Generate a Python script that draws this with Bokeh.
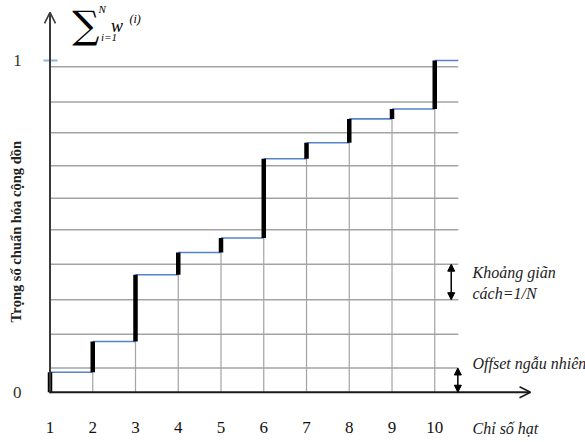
import math
from bokeh.plotting import figure
from bokeh.models import Range1d, Arrow, OpenHead, NormalHead
from bokeh.core.properties import value
from bokeh.embed import file_html
from bokeh.resources import INLINE

# ---- data ----
particle_index = [1, 2, 3, 4, 5, 6, 7, 8, 9, 10]
cumulative = [0.060, 0.153, 0.354, 0.421, 0.465, 0.704, 0.752, 0.824, 0.854, 1.0]
grid_levels = [0.073, 0.175, 0.279, 0.386, 0.490, 0.585, 0.683, 0.782, 0.875, 0.981]
x_tick_labels = ["1", "2", "3", "4", "5", "6", "7", "8", "9", "10"]
y_tick_labels = ["0", "1"]
y_tick_values = [0.0, 1.0]

FONT = "Liberation Serif"
X_END = 10.55

p = figure(width=585, height=442, output_backend="svg", toolbar_location=None,
           x_range=Range1d(-0.158, 13.526), y_range=Range1d(-0.1516, 1.1809),
           min_border=0, x_axis_type=None, y_axis_type=None)
p.xgrid.visible = False
p.ygrid.visible = False
p.outline_line_color = None
p.background_fill_color = "white"

# horizontal grid lines
p.segment(x0=[1] * len(grid_levels), y0=grid_levels, x1=[X_END] * len(grid_levels),
          y1=grid_levels, line_color="#a3a3a3", line_width=1.5)

# vertical grid lines up to the previous cumulative level
prev = [0.0] + cumulative[:-1]
p.segment(x0=particle_index[1:], y0=[0.0] * 9, x1=particle_index[1:], y1=prev[1:],
          line_color="#a3a3a3", line_width=1.2)

# blue horizontal step lines
x_next = particle_index[1:] + [X_END]
p.segment(x0=particle_index, y0=cumulative, x1=x_next, y1=cumulative,
          line_color="#5585c8", line_width=1.6)

# black thick vertical jumps
p.segment(x0=particle_index, y0=prev, x1=particle_index, y1=cumulative,
          line_color="black", line_width=4.5, line_cap="butt")

# axes with arrows
p.add_layout(Arrow(x_start=1, y_start=-0.003, x_end=1, y_end=1.145,
                   line_color="#3a3a3a", line_width=2,
                   end=OpenHead(size=11, line_color="#3a3a3a", line_width=1.6)))
p.add_layout(Arrow(x_start=1, y_start=0, x_end=12.24, y_end=0,
                   line_color="#1a1a1a", line_width=2,
                   end=OpenHead(size=11, line_color="#1a1a1a", line_width=1.6)))

# blue tick at 1
p.segment(x0=[0.848], y0=[1.0], x1=[1.175], y1=[1.0], line_color="#93b3dd", line_width=2)

# double arrows
p.add_layout(Arrow(x_start=10.385, y_start=grid_levels[2], x_end=10.385, y_end=grid_levels[3],
                   line_color="black", line_width=1.5,
                   start=NormalHead(size=7, fill_color="black", line_color="black"),
                   end=NormalHead(size=7, fill_color="black", line_color="black")))
p.add_layout(Arrow(x_start=10.54, y_start=0.0, x_end=10.54, y_end=grid_levels[0],
                   line_color="black", line_width=1.5,
                   start=NormalHead(size=7, fill_color="black", line_color="black"),
                   end=NormalHead(size=7, fill_color="black", line_color="black")))

# x tick labels
p.text(x=particle_index, y=[-0.106] * 10, text=x_tick_labels, text_font=value(FONT),
       text_font_size="17px", text_align="center", text_baseline="middle", text_color="#111111")

# y tick labels
p.text(x=[0.233, 0.24], y=y_tick_values, text=y_tick_labels, text_font=value(FONT),
       text_font_size="17px", text_align="center", text_baseline="middle", text_color="#333333")

# y label
p.text(x=[0.216], y=[0.484], text=["Trọng số chuẩn hóa cộng dồn"], angle=math.pi / 2,
       text_font=value(FONT), text_font_size="14.5px", text_font_style="bold",
       text_align="center", text_baseline="middle", text_color="#222222")

# annotations
p.text(x=[10.883, 10.883, 10.883, 10.883], y=[0.361, 0.2975, 0.0865, -0.109],
       text=["Khoảng giãn", "cách=1/N", "Offset ngẫu nhiên", "Chỉ số hạt"],
       text_font=value(FONT), text_font_size="16px", text_font_style="italic",
       text_align="left", text_baseline="middle", text_color="#222222")

# summation formula
p.text(x=[1.84], y=[1.108], text=["∑"], text_font=value("DejaVu Serif"), text_font_size="38px",
       text_align="center", text_baseline="middle", text_color="black")
p.text(x=[2.22, 2.38], y=[1.155, 1.072], text=["N", "i=1"],
       text_font=value(FONT), text_font_size="11px", text_font_style="italic",
       text_align="center", text_baseline="middle", text_color="black")
p.text(x=[2.99], y=[1.125], text=["(i)"],
       text_font=value(FONT), text_font_size="12px", text_font_style="italic",
       text_align="center", text_baseline="middle", text_color="black")
p.text(x=[2.57], y=[1.103], text=["w"], text_font=value(FONT), text_font_size="18px",
       text_font_style="italic", text_align="center", text_baseline="middle", text_color="black")

open("out.html", "w").write(file_html(p, INLINE))
